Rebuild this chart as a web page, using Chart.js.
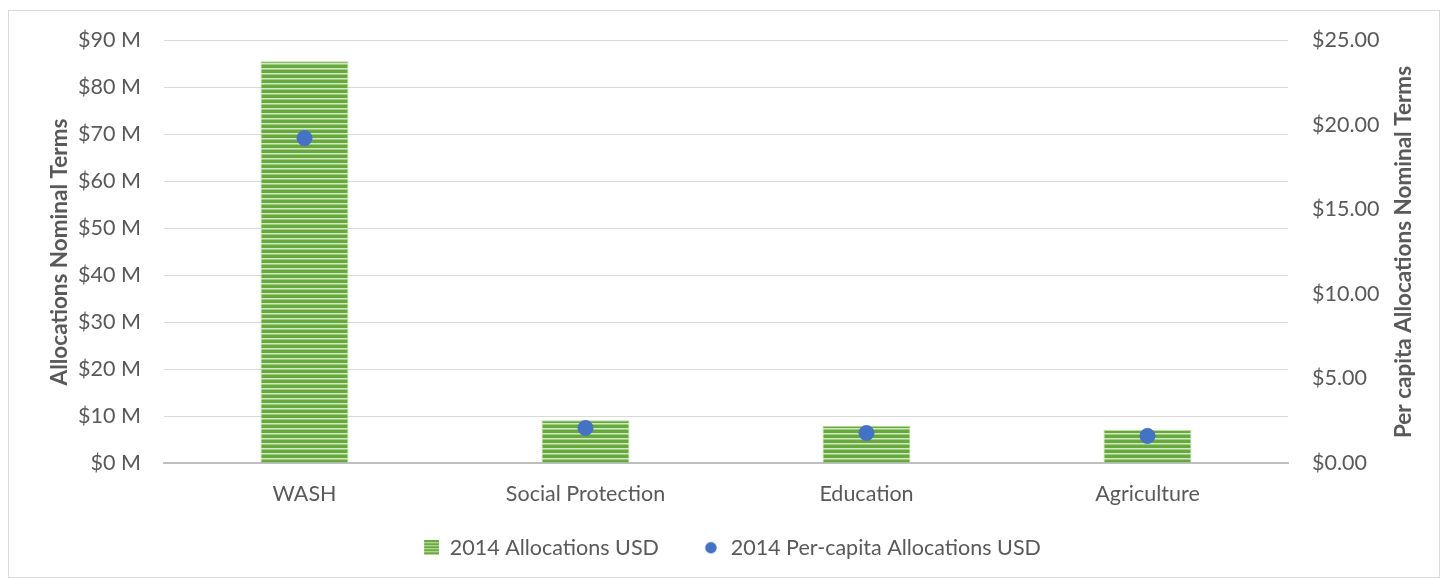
<!DOCTYPE html>
<html>
<head>
<meta charset="utf-8">
<script src="https://cdn.jsdelivr.net/npm/chart.js@4.4.0/dist/chart.umd.min.js"></script>
<style>
  html, body { margin: 0; padding: 0; background: #ffffff; }
  #wrap { position: relative; width: 1442px; height: 579px; }
</style>
</head>
<body>
<div id="wrap"><canvas id="c" width="1442" height="579"></canvas></div>
<script>
const categories = ['WASH', 'Social Protection', 'Education', 'Agriculture'];
const allocationsUSD = [85.5, 9.1, 7.9, 7.0];          // millions USD
const perCapitaUSD = [19.2, 2.07, 1.77, 1.6];          // USD per capita
const leftTicks = [0, 10, 20, 30, 40, 50, 60, 70, 80, 90];
const rightTicks = [0, 5, 10, 15, 20, 25];
const seriesNames = ['2014 Allocations USD', '2014 Per-capita Allocations USD'];
const axisTitles = ['Allocations Nominal Terms', 'Per capita Allocations Nominal Terms'];

const FONT = 'Lato, "Open Sans", sans-serif';
const TEXT = '#595959';
const BLUE = '#4472c4';
const MARK_W = 38;   // legend marker box width (marker sits at its right end)

function drawStripes(g, w, h) {
  g.fillStyle = '#68a93d';
  g.fillRect(0, 0, w, h);
  g.fillStyle = '#d2e7c4';
  for (let y = 3; y < h; y += 5) g.fillRect(0, y, w, 1);
  g.fillStyle = '#9fca82';
  for (let y = 4; y < h; y += 5) g.fillRect(0, y, w, 1);
}
function makeStripes() {
  const p = document.createElement('canvas');
  p.width = 4; p.height = 5;
  drawStripes(p.getContext('2d'), 4, 5);
  return p.getContext('2d').createPattern(p, 'repeat');
}
const stripes = makeStripes();

function legendSquare() {
  const c = document.createElement('canvas');
  c.width = MARK_W; c.height = 15;
  const g = c.getContext('2d');
  const x0 = MARK_W - 15;
  g.fillStyle = '#6aab3f'; g.fillRect(x0, 0, 15, 15);
  g.fillStyle = '#c8e2b6';
  for (let y = 2; y < 15; y += 3) g.fillRect(x0, y, 15, 1);
  return c;
}
function legendDot() {
  const c = document.createElement('canvas');
  c.width = MARK_W; c.height = 15;
  const g = c.getContext('2d');
  g.fillStyle = BLUE;
  g.beginPath(); g.arc(MARK_W - 9, 7.5, 5.7, 0, Math.PI * 2); g.fill();
  return c;
}
const sqImg = legendSquare();
const dotImg = legendDot();

const extras = {
  id: 'extras',
  beforeDraw(chart) {
    const ctx = chart.ctx;
    ctx.save();
    ctx.strokeStyle = '#d9d9d9';
    ctx.lineWidth = 1;
    ctx.strokeRect(8.5, 10.5, 1431, 567);
    ctx.restore();
  },
  afterDraw(chart) {
    const ctx = chart.ctx;
    [[60, 252, axisTitles[0]], [1404, 252, axisTitles[1]]].forEach(([x, y, t]) => {
      ctx.save();
      ctx.fillStyle = TEXT;
      ctx.font = 'bold 22.5px ' + FONT;
      ctx.textAlign = 'center';
      ctx.textBaseline = 'middle';
      ctx.translate(x, y);
      ctx.rotate(-Math.PI / 2);
      ctx.fillText(t, 0, 0);
      ctx.restore();
    });
  }
};

new Chart(document.getElementById('c'), {
  type: 'bar',
  data: {
    labels: categories,
    datasets: [
      {
        label: seriesNames[1],
        type: 'line',
        data: perCapitaUSD,
        yAxisID: 'y1',
        showLine: false,
        pointRadius: 7.5,
        pointHoverRadius: 7.5,
        pointBackgroundColor: BLUE,
        pointBorderColor: BLUE,
        backgroundColor: BLUE,
        borderColor: BLUE,
        order: 0
      },
      {
        label: seriesNames[0],
        data: allocationsUSD,
        yAxisID: 'y',
        backgroundColor: stripes,
        borderColor: '#b9d9a1',
        borderWidth: 1,
        borderSkipped: 'bottom',
        categoryPercentage: 1,
        barPercentage: 0.313,
        order: 1
      }
    ]
  },
  options: {
    responsive: false,
    animation: false,
    devicePixelRatio: 1,
    layout: { padding: { top: 40, bottom: 10.5, left: 0, right: 0 } },
    plugins: {
      tooltip: { enabled: false },
      legend: {
        position: 'bottom',
        reverse: true,
        labels: {
          usePointStyle: true,
          pointStyleWidth: MARK_W,
          boxHeight: 15,
          padding: 23,
          color: TEXT,
          font: { family: FONT, size: 21.5 },
          generateLabels(chart) {
            const items = Chart.defaults.plugins.legend.labels.generateLabels(chart);
            items.forEach(it => {
              it.pointStyle = it.datasetIndex === 1 ? sqImg : dotImg;
              it.lineWidth = 0;
            });
            return items;
          }
        }
      }
    },
    scales: {
      x: {
        grid: { display: false, drawTicks: false },
        border: { display: true, color: '#bfbfbf', width: 2 },
        ticks: { color: TEXT, font: { family: FONT, size: 21.5 }, padding: 18, maxRotation: 0 },
        afterFit(s) { s.height = 51; }
      },
      y: {
        position: 'left',
        min: 0, max: 90,
        afterBuildTicks(s) { s.ticks = leftTicks.map(v => ({ value: v })); },
        grid: { color: '#d9d9d9', lineWidth: 1, drawTicks: false },
        border: { display: false },
        ticks: { color: TEXT, font: { family: FONT, size: 21.5 }, padding: 23, callback: v => '$' + v + ' M' },
        afterFit(s) { s.width = 164; }
      },
      y1: {
        position: 'right',
        min: 0, max: 25,
        afterBuildTicks(s) { s.ticks = rightTicks.map(v => ({ value: v })); },
        grid: { display: false, drawTicks: false },
        border: { display: false },
        ticks: { color: TEXT, font: { family: FONT, size: 21.5 }, padding: 24, callback: v => '$' + v.toFixed(2) },
        afterFit(s) { s.width = 1442 - 1288; }
      }
    }
  },
  plugins: [extras]
});
</script>
</body>
</html>
